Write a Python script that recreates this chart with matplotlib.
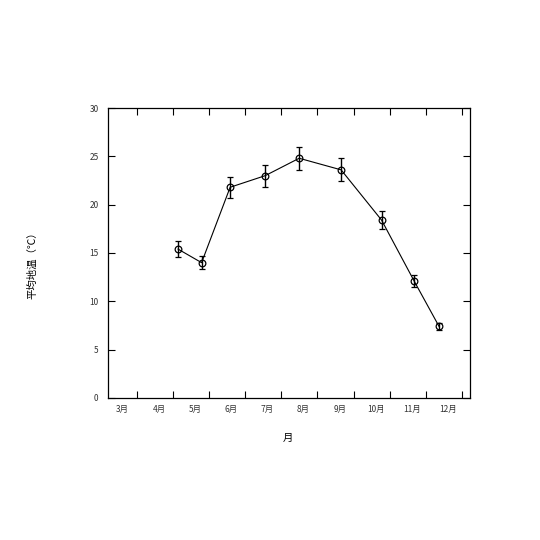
import numpy as np
import matplotlib.pyplot as plt
from matplotlib.ticker import FixedLocator, NullFormatter

plt.rcParams['font.family'] = ['Noto Sans CJK JP', 'DejaVu Sans']

# month labels and observed points (x in month units)
months = [3, 4, 5, 6, 7, 8, 9, 10, 11, 12]
month_labels = ['3月', '4月', '5月', '6月', '7月', '8月', '9月', '10月', '11月', '12月']
obs_x = [4.53, 5.18, 5.97, 6.94, 7.88, 9.04, 10.16, 11.06, 11.75]
mean_temp = [15.4, 14.0, 21.8, 23.0, 24.8, 23.6, 18.4, 12.1, 7.4]
temp_err = [0.8, 0.7, 1.07, 1.13, 1.2, 1.2, 0.9, 0.6, 0.35]

fig = plt.figure(figsize=(5.4, 5.4), dpi=100)
ax = fig.add_axes([0.2006, 0.263, 0.6694, 0.537])

ax.errorbar(obs_x, mean_temp, yerr=temp_err, color='black', lw=0.8,
            marker='o', ms=4.8, mfc='none', mec='black', mew=0.9,
            ecolor='black', elinewidth=1.0, capsize=2.2, capthick=1.0)

ax.set_xlim(2.6, 12.6)
ax.set_ylim(0, 30)

# boundary ticks between months, labels centred on months
ax.xaxis.set_major_locator(FixedLocator([m + 0.385 for m in months]))
ax.xaxis.set_major_formatter(NullFormatter())
ax.xaxis.set_minor_locator(FixedLocator(months))
ax.set_xticklabels(month_labels, minor=True)
ax.tick_params(axis='x', which='minor', length=0, pad=5, labelsize=6, labelcolor='#333333')
ax.tick_params(axis='x', which='major', direction='in', length=5, width=0.8, top=True)

ax.set_yticks(np.arange(0, 31, 5))
ax.tick_params(axis='y', direction='in', length=5, width=0.8, right=True,
               labelsize=6, pad=7, labelcolor='#333333')

for s in ax.spines.values():
    s.set_linewidth(0.9)

fig.text(288 / 540, 1 - 438 / 540, '月', fontsize=7.5, ha='center', va='center')
fig.text(32 / 540, 1 - 263 / 540, '平均地温（℃）', fontsize=7.5,
         rotation=90, ha='center', va='center')

fig.savefig('out.png', dpi=100)
